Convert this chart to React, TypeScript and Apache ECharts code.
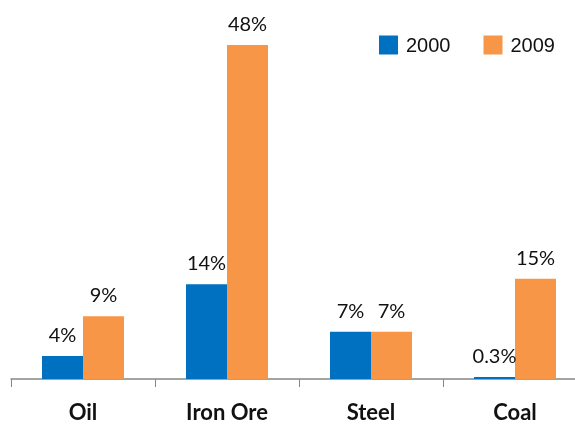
import React, { useEffect, useRef } from "react";
import * as echarts from "echarts";

const categories = ["Oil", "Iron Ore", "Steel", "Coal"];
const series2000 = [3.3, 13.6, 6.8, 0.3];
const series2009 = [9, 48, 6.8, 14.4];
const labels2000 = ["4%", "14%", "7%", "0.3%"];
const labels2009 = ["9%", "48%", "7%", "15%"];

export default function App() {
  const ref = useRef<HTMLDivElement>(null);
  useEffect(() => {
    const chart = echarts.init(ref.current!, null, { renderer: "svg" });
    const labelStyle = {
      show: true,
      position: "top" as const,
      distance: 12,
      fontFamily: "Lato, 'Open Sans', sans-serif",
      fontSize: 20,
      color: "#111",
    };
    chart.setOption({
      animation: false,
      legend: {
        top: 30,
        left: 374,
        itemWidth: 19,
        itemHeight: 19,
        itemGap: 33,
        icon: "rect",
        textStyle: { fontFamily: "'Liberation Sans', Arial, sans-serif", fontSize: 20, color: "#111", padding: [0, 0, 0, 3] },
        data: ["2000", "2009"],
      },
      grid: { left: 11, top: 31, width: 576, bottom: 46, containLabel: false, outerBoundsMode: "none" },
      xAxis: {
        type: "category",
        data: categories,
        axisLine: { lineStyle: { color: "#868686", width: 1.5 } },
        axisTick: { show: true, length: 8, lineStyle: { color: "#868686" } },
        axisLabel: {
          margin: 21,
          fontFamily: "Lato, 'Open Sans', sans-serif",
          fontWeight: "bold",
          fontSize: 22,
          color: "#111",
        },
      },
      yAxis: { type: "value", min: 0, max: 50, show: false, splitLine: { show: false } },
      series: [
        {
          name: "2000",
          type: "bar",
          data: series2000,
          barWidth: 41,
          barGap: "0%",
          itemStyle: { color: "#0070C0" },
          label: { ...labelStyle, formatter: (p: any) => labels2000[p.dataIndex] },
        },
        {
          name: "2009",
          type: "bar",
          data: series2009,
          barWidth: 41,
          barGap: "0%",
          itemStyle: { color: "#F79646" },
          label: { ...labelStyle, formatter: (p: any) => labels2009[p.dataIndex] },
        },
      ],
    });
    return () => chart.dispose();
  }, []);
  return <div ref={ref} style={{ width: 575, height: 425, position: "fixed", left: 0, top: 0 }} />;
}
